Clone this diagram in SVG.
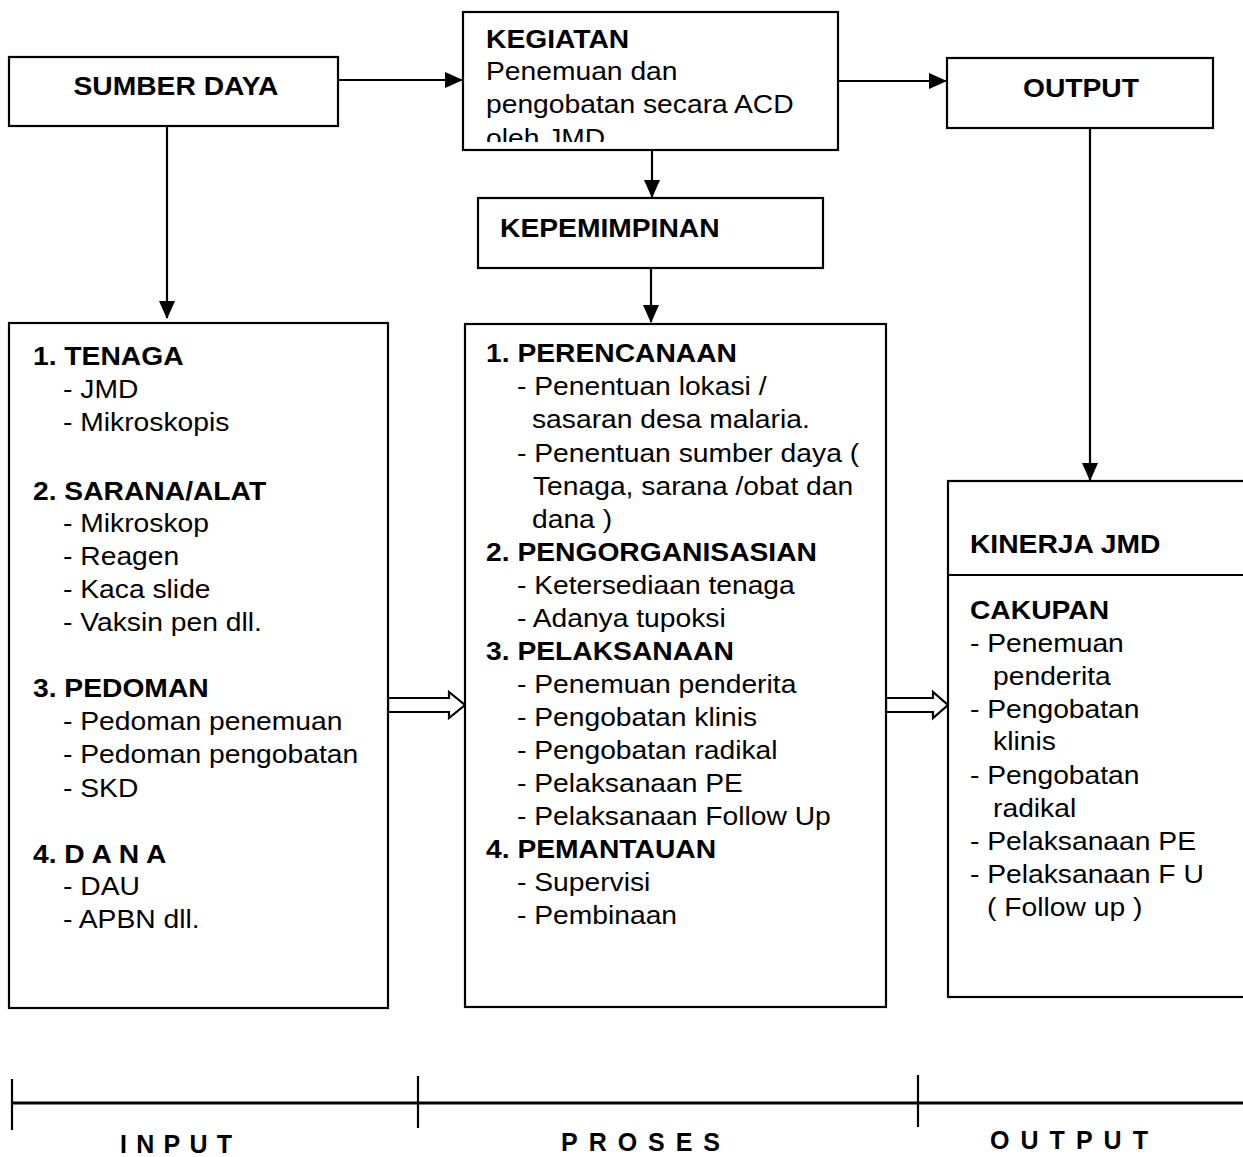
<svg xmlns="http://www.w3.org/2000/svg" width="1243" height="1157" viewBox="0 0 1243 1157">
<style>
.box{fill:#fff;stroke:#000;stroke-width:2.2}
.ln{fill:none;stroke:#000;stroke-width:2.2}
text{font-family:"Liberation Sans",Arial,sans-serif;font-size:25px;fill:#000}
.b{font-weight:bold}
.lab{font-weight:bold;font-size:25px}
</style>
<defs>
<marker id="ah" markerUnits="userSpaceOnUse" markerWidth="18" markerHeight="16" refX="17" refY="8" orient="auto">
<path d="M0,0 L18,8 L0,16 Z" fill="#000"/>
</marker>
<clipPath id="kclip"><rect x="0" y="0" width="2000" height="142"/></clipPath>
</defs>

<g id="connectors">
<line class="ln" x1="338" y1="80" x2="462" y2="80" marker-end="url(#ah)"/>
<line class="ln" x1="838" y1="81" x2="946" y2="81" marker-end="url(#ah)"/>
<line class="ln" x1="652" y1="150" x2="652" y2="197" marker-end="url(#ah)"/>
<line class="ln" x1="651" y1="268" x2="651" y2="322" marker-end="url(#ah)"/>
<line class="ln" x1="167" y1="126" x2="167" y2="318" marker-end="url(#ah)"/>
<line class="ln" x1="1090" y1="128" x2="1090" y2="480" marker-end="url(#ah)"/>
<polygon class="ln" points="388,698 449,698 449,692 465,705 449,718 449,712 388,712" style="fill:#fff"/>
<polygon class="ln" points="886,698 933,698 933,692 948,705 933,718 933,712 886,712" style="fill:#fff"/>
</g>

<g id="sumber-daya">
<rect class="box" x="9" y="57" width="329" height="69"/>
<g transform="scale(1.13,1)"><text class="b" x="155.75" y="95" text-anchor="middle">SUMBER DAYA</text></g>
</g>

<g id="kegiatan">
<rect class="box" x="463" y="12" width="375" height="138"/>
<g transform="scale(1.13,1)">
<text class="b" x="430.1" y="48">KEGIATAN</text>
<text x="430.1" y="80">Penemuan dan</text>
<text x="430.1" y="113">pengobatan secara ACD</text>
<text x="430.1" y="147" clip-path="url(#kclip)">oleh JMD</text>
</g>
</g>

<g id="output-top">
<rect class="box" x="947" y="58" width="266" height="70"/>
<g transform="scale(1.13,1)"><text class="b" x="956.6" y="97" text-anchor="middle">OUTPUT</text></g>
</g>

<g id="kepemimpinan">
<rect class="box" x="478" y="198" width="345" height="70"/>
<g transform="scale(1.13,1)"><text class="b" x="442.5" y="237">KEPEMIMPINAN</text></g>
</g>

<g id="input-box">
<rect class="box" x="9" y="323" width="379" height="685"/>
<g transform="scale(1.13,1)">
<text class="b" x="29.2" y="365">1. TENAGA</text>
<text x="55.8" y="398">- JMD</text>
<text x="55.8" y="431">- Mikroskopis</text>
<text class="b" x="29.2" y="500">2. SARANA/ALAT</text>
<text x="55.8" y="532">- Mikroskop</text>
<text x="55.8" y="565">- Reagen</text>
<text x="55.8" y="598">- Kaca slide</text>
<text x="55.8" y="631">- Vaksin pen dll.</text>
<text class="b" x="29.2" y="697">3. PEDOMAN</text>
<text x="55.8" y="730">- Pedoman penemuan</text>
<text x="55.8" y="763">- Pedoman pengobatan</text>
<text x="55.8" y="797">- SKD</text>
<text class="b" x="29.2" y="863">4. D A N A</text>
<text x="55.8" y="895">- DAU</text>
<text x="55.8" y="928">- APBN dll.</text>
</g>
</g>

<g id="proses-box">
<rect class="box" x="465" y="324" width="421" height="683"/>
<g transform="scale(1.13,1)">
<text class="b" x="430.1" y="362">1. PERENCANAAN</text>
<text x="457.5" y="395">- Penentuan lokasi /</text>
<text x="470.8" y="428">sasaran desa malaria.</text>
<text x="457.5" y="462">- Penentuan sumber daya (</text>
<text x="471.7" y="495">Tenaga, sarana /obat dan</text>
<text x="470.8" y="528">dana )</text>
<text class="b" x="430.1" y="561">2. PENGORGANISASIAN</text>
<text x="457.5" y="594">- Ketersediaan tenaga</text>
<text x="457.5" y="627">- Adanya tupoksi</text>
<text class="b" x="430.1" y="660">3. PELAKSANAAN</text>
<text x="457.5" y="693">- Penemuan penderita</text>
<text x="457.5" y="726">- Pengobatan klinis</text>
<text x="457.5" y="759">- Pengobatan radikal</text>
<text x="457.5" y="792">- Pelaksanaan PE</text>
<text x="457.5" y="825">- Pelaksanaan Follow Up</text>
<text class="b" x="430.1" y="858">4. PEMANTAUAN</text>
<text x="457.5" y="891">- Supervisi</text>
<text x="457.5" y="924">- Pembinaan</text>
</g>
</g>

<g id="kinerja-box">
<rect class="box" x="948" y="481" width="320" height="516"/>
<line class="ln" x1="948" y1="575" x2="1243" y2="575"/>
<g transform="scale(1.13,1)">
<text class="b" x="858.4" y="553">KINERJA JMD</text>
<text class="b" x="858.4" y="619">CAKUPAN</text>
<text x="858.4" y="652">- Penemuan</text>
<text x="878.8" y="685">penderita</text>
<text x="858.4" y="718">- Pengobatan</text>
<text x="878.8" y="750">klinis</text>
<text x="858.4" y="784">- Pengobatan</text>
<text x="878.8" y="817">radikal</text>
<text x="858.4" y="850">- Pelaksanaan PE</text>
<text x="858.4" y="883">- Pelaksanaan F U</text>
<text x="873.5" y="916">( Follow up )</text>
</g>
</g>

<g id="timeline">
<line x1="12" y1="1103" x2="1243" y2="1103" stroke="#000" stroke-width="3"/>
<line class="ln" x1="12" y1="1079" x2="12" y2="1130"/>
<line class="ln" x1="418" y1="1076" x2="418" y2="1128"/>
<line class="ln" x1="918" y1="1075" x2="918" y2="1127"/>
<text class="lab" x="120" y="1153" textLength="112" lengthAdjust="spacing">INPUT</text>
<text class="lab" x="561" y="1151" textLength="159" lengthAdjust="spacing">PROSES</text>
<text class="lab" x="990" y="1149" textLength="158" lengthAdjust="spacing">OUTPUT</text>
</g>
</svg>
